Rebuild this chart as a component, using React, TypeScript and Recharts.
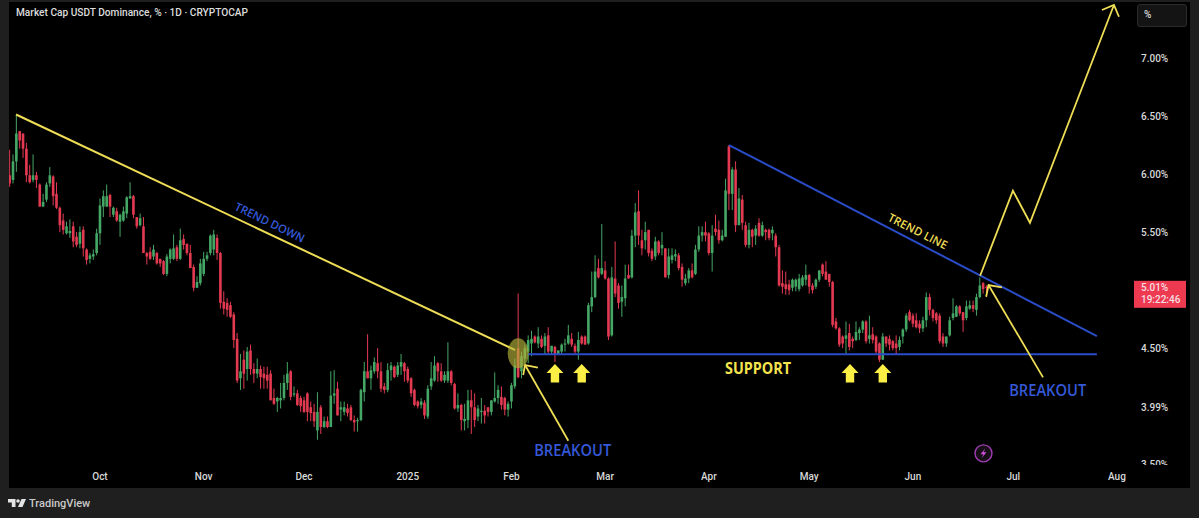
import React from 'react';
import {Bar, ComposedChart, Line, ReferenceDot, XAxis, YAxis} from 'recharts';

// Daily candles, first one is 27 days before Oct 1 (day 0)
const firstCandleDay = -27;

const opens = [
    5.98, 5.94, 6.10, 6.36, 6.34, 6.21, 5.98, 5.94, 5.98, 5.90,
    5.71, 5.77, 5.91, 5.97, 5.82, 5.70, 5.59, 5.48, 5.48, 5.54,
    5.45, 5.39, 5.51, 5.34, 5.26, 5.28, 5.31, 5.48, 5.71, 5.71,
    5.81, 5.64, 5.67, 5.58, 5.59, 5.65, 5.78, 5.80, 5.62, 5.55,
    5.54, 5.31, 5.32, 5.28, 5.31, 5.26, 5.24, 5.13, 5.26, 5.26,
    5.36, 5.26, 5.43, 5.39, 5.31, 5.19, 5.01, 5.05, 5.13, 5.26,
    5.31, 5.34, 5.44, 5.31, 4.89, 4.88, 4.86, 4.78, 4.57, 4.23,
    4.39, 4.31, 4.47, 4.31, 4.27, 4.31, 4.27, 4.26, 4.27, 4.06,
    4.03, 4.04, 4.06, 4.19, 4.29, 4.09, 4.10, 4.06, 4.04, 4.10,
    3.98, 3.94, 3.78, 3.98, 3.81, 3.86, 3.81, 4.08, 4.14, 3.96,
    3.94, 3.97, 3.98, 3.87, 3.86, 3.87, 4.11, 4.29, 4.23, 4.29,
    4.36, 4.29, 4.16, 4.13, 4.30, 4.33, 4.26, 4.33, 4.36, 4.31,
    4.23, 4.13, 4.03, 4.00, 4.02, 3.90, 4.16, 4.21, 4.36, 4.29,
    4.21, 4.21, 4.29, 4.18, 3.97, 4.00, 3.86, 3.87, 4.04, 3.98,
    3.90, 3.94, 3.95, 3.98, 3.94, 4.03, 4.06, 4.07, 4.06, 3.96,
    4.03, 4.16, 4.49, 4.29, 4.40, 4.46, 4.53, 4.59, 4.53, 4.57,
    4.51, 4.60, 4.46, 4.50, 4.44, 4.46, 4.52, 4.53, 4.57, 4.51,
    4.46, 4.59, 4.59, 4.53, 4.85, 4.93, 5.18, 5.13, 5.16, 5.09,
    4.60, 5.09, 5.03, 4.89, 4.92, 5.12, 5.10, 5.46, 5.67, 5.42,
    5.42, 5.51, 5.33, 5.28, 5.41, 5.35, 5.35, 5.12, 5.25, 5.28,
    5.29, 5.19, 5.05, 5.09, 5.16, 5.13, 5.34, 5.46, 5.49, 5.48,
    5.31, 5.52, 5.51, 5.42, 5.45, 6.23, 5.82, 6.03, 5.55, 5.77,
    5.55, 5.38, 5.51, 5.46, 5.57, 5.46, 5.51, 5.51, 5.48, 5.46,
    5.36, 5.05, 5.04, 5.04, 5.01, 5.02, 5.00, 5.03, 5.08, 5.12,
    5.03, 5.02, 5.08, 5.21, 5.15, 5.13, 5.06, 4.72, 4.66, 4.59,
    4.57, 4.62, 4.57, 4.56, 4.62, 4.65, 4.72, 4.57, 4.61, 4.59,
    4.53, 4.39, 4.59, 4.57, 4.55, 4.53, 4.50, 4.59, 4.65, 4.80,
    4.77, 4.73, 4.70, 4.66, 4.73, 4.93, 4.82, 4.79, 4.77, 4.59,
    4.53, 4.60, 4.75, 4.76, 4.85, 4.80, 4.75, 4.83, 4.86, 4.82,
    4.93, 5.05, 5.02,
];

const highs = [
    6.20, 6.16, 6.50, 6.36, 6.34, 6.26, 6.07, 6.16, 6.01, 5.91,
    5.82, 5.92, 6.05, 5.98, 5.92, 5.71, 5.65, 5.58, 5.60, 5.58,
    5.49, 5.54, 5.54, 5.35, 5.31, 5.34, 5.52, 5.78, 5.85, 5.90,
    5.82, 5.71, 5.70, 5.65, 5.71, 5.80, 5.92, 5.81, 5.62, 5.65,
    5.62, 5.32, 5.36, 5.38, 5.32, 5.26, 5.25, 5.30, 5.35, 5.47,
    5.38, 5.52, 5.47, 5.39, 5.38, 5.21, 5.11, 5.26, 5.32, 5.32,
    5.47, 5.51, 5.47, 5.32, 4.98, 4.92, 4.89, 4.80, 4.62, 4.44,
    4.47, 4.50, 4.52, 4.36, 4.40, 4.34, 4.33, 4.33, 4.30, 4.14,
    4.07, 4.19, 4.26, 4.37, 4.30, 4.16, 4.13, 4.08, 4.07, 4.11,
    4.03, 4.01, 4.11, 4.00, 3.90, 3.90, 4.29, 4.30, 4.20, 4.03,
    4.03, 4.01, 4.00, 3.91, 3.89, 4.14, 4.37, 4.61, 4.34, 4.41,
    4.49, 4.37, 4.19, 4.36, 4.37, 4.34, 4.37, 4.44, 4.37, 4.33,
    4.24, 4.14, 4.04, 4.06, 4.04, 4.17, 4.37, 4.42, 4.37, 4.36,
    4.29, 4.54, 4.30, 4.19, 4.10, 4.01, 4.01, 4.13, 4.13, 4.10,
    4.00, 4.06, 4.00, 3.98, 4.04, 4.28, 4.17, 4.16, 4.07, 4.03,
    4.19, 4.40, 4.96, 4.46, 4.52, 4.60, 4.64, 4.60, 4.67, 4.60,
    4.62, 4.67, 4.51, 4.51, 4.47, 4.53, 4.57, 4.69, 4.62, 4.53,
    4.63, 4.60, 4.60, 4.88, 5.15, 5.29, 5.26, 5.56, 5.24, 5.10,
    5.19, 5.41, 5.05, 5.03, 5.21, 5.21, 5.51, 5.74, 5.85, 5.51,
    5.58, 5.51, 5.35, 5.45, 5.42, 5.49, 5.35, 5.35, 5.35, 5.34,
    5.31, 5.22, 5.13, 5.18, 5.22, 5.38, 5.54, 5.54, 5.58, 5.49,
    5.55, 5.64, 5.59, 5.51, 5.95, 6.24, 6.05, 6.10, 5.87, 5.81,
    5.58, 5.57, 5.52, 5.55, 5.61, 5.58, 5.52, 5.52, 5.54, 5.48,
    5.38, 5.16, 5.15, 5.08, 5.09, 5.09, 5.13, 5.12, 5.21, 5.13,
    5.05, 5.09, 5.16, 5.22, 5.24, 5.13, 5.07, 4.75, 4.67, 4.60,
    4.72, 4.70, 4.59, 4.72, 4.67, 4.73, 4.73, 4.77, 4.67, 4.60,
    4.54, 4.62, 4.59, 4.60, 4.56, 4.60, 4.59, 4.66, 4.79, 4.82,
    4.79, 4.79, 4.73, 4.76, 4.97, 4.96, 4.83, 4.80, 4.79, 4.62,
    4.59, 4.76, 4.92, 4.86, 4.86, 4.80, 4.90, 4.90, 4.90, 4.96,
    5.10, 5.06, 5.03,
];

const lows = [
    5.88, 5.91, 6.01, 6.21, 6.13, 5.92, 5.91, 5.92, 5.87, 5.71,
    5.71, 5.75, 5.88, 5.72, 5.69, 5.49, 5.47, 5.47, 5.44, 5.36,
    5.36, 5.35, 5.28, 5.21, 5.22, 5.25, 5.29, 5.38, 5.62, 5.71,
    5.62, 5.62, 5.58, 5.45, 5.58, 5.61, 5.78, 5.61, 5.52, 5.54,
    5.31, 5.21, 5.25, 5.25, 5.21, 5.19, 5.12, 5.11, 5.22, 5.25,
    5.24, 5.25, 5.34, 5.29, 5.18, 4.98, 5.01, 5.03, 5.11, 5.24,
    5.29, 5.29, 5.25, 4.83, 4.78, 4.76, 4.75, 4.49, 4.19, 4.13,
    4.14, 4.21, 4.26, 4.19, 4.23, 4.14, 4.14, 4.14, 4.04, 4.00,
    3.94, 3.97, 4.04, 4.13, 4.04, 4.07, 3.99, 3.94, 3.93, 3.86,
    3.86, 3.81, 3.70, 3.75, 3.80, 3.80, 3.81, 4.01, 3.91, 3.86,
    3.91, 3.90, 3.86, 3.77, 3.77, 3.86, 4.03, 4.23, 4.13, 4.27,
    4.23, 4.11, 4.10, 4.11, 4.21, 4.23, 4.24, 4.26, 4.20, 4.19,
    4.07, 3.99, 3.97, 3.97, 3.88, 3.88, 4.13, 4.20, 4.20, 4.20,
    4.19, 4.19, 4.17, 3.96, 3.94, 3.78, 3.78, 3.80, 3.75, 3.81,
    3.86, 3.84, 3.84, 3.90, 3.91, 4.02, 4.01, 3.96, 3.91, 3.90,
    3.97, 4.14, 4.23, 4.23, 4.34, 4.36, 4.42, 4.53, 4.49, 4.49,
    4.44, 4.44, 4.44, 4.37, 4.43, 4.44, 4.46, 4.52, 4.50, 4.44,
    4.39, 4.52, 4.52, 4.52, 4.80, 4.92, 5.09, 5.12, 5.08, 4.56,
    4.59, 4.93, 4.83, 4.76, 4.85, 5.09, 5.09, 5.36, 5.38, 5.29,
    5.34, 5.28, 5.24, 5.25, 5.29, 5.29, 5.10, 5.09, 5.22, 5.24,
    5.16, 5.02, 5.03, 5.05, 5.09, 5.12, 5.32, 5.41, 5.41, 5.29,
    5.15, 5.46, 5.39, 5.41, 5.45, 5.68, 5.68, 5.49, 5.55, 5.51,
    5.36, 5.35, 5.36, 5.38, 5.45, 5.45, 5.42, 5.42, 5.42, 5.28,
    5.02, 4.96, 4.95, 4.95, 4.98, 4.98, 4.98, 5.02, 5.03, 4.96,
    4.96, 5.00, 5.06, 5.11, 5.08, 5.02, 4.67, 4.65, 4.50, 4.49,
    4.44, 4.47, 4.49, 4.55, 4.56, 4.62, 4.53, 4.53, 4.53, 4.44,
    4.37, 4.39, 4.50, 4.47, 4.47, 4.44, 4.47, 4.53, 4.63, 4.72,
    4.67, 4.66, 4.62, 4.63, 4.67, 4.77, 4.72, 4.70, 4.53, 4.50,
    4.50, 4.59, 4.73, 4.76, 4.77, 4.63, 4.73, 4.82, 4.80, 4.77,
    4.92, 4.96, 4.93,
];

const closes = [
    5.91, 6.10, 6.34, 6.28, 6.21, 5.98, 5.92, 5.98, 5.94, 5.71,
    5.75, 5.90, 5.98, 5.80, 5.70, 5.55, 5.51, 5.54, 5.50, 5.41,
    5.38, 5.49, 5.35, 5.25, 5.29, 5.30, 5.48, 5.72, 5.80, 5.80,
    5.71, 5.70, 5.59, 5.64, 5.67, 5.79, 5.80, 5.64, 5.54, 5.61,
    5.31, 5.28, 5.26, 5.34, 5.22, 5.22, 5.13, 5.28, 5.34, 5.35,
    5.26, 5.42, 5.38, 5.31, 5.18, 5.01, 5.06, 5.22, 5.26, 5.29,
    5.46, 5.47, 5.31, 4.88, 4.83, 4.82, 4.76, 4.56, 4.21, 4.29,
    4.27, 4.46, 4.31, 4.27, 4.31, 4.24, 4.23, 4.21, 4.04, 4.01,
    4.06, 4.06, 4.19, 4.27, 4.07, 4.10, 4.00, 3.99, 3.94, 3.94,
    3.93, 3.86, 3.94, 3.81, 3.86, 3.81, 4.08, 4.10, 3.91, 3.98,
    3.98, 3.93, 3.87, 3.85, 3.87, 4.13, 4.29, 4.23, 4.30, 4.37,
    4.29, 4.14, 4.13, 4.30, 4.34, 4.24, 4.34, 4.37, 4.29, 4.21,
    4.10, 4.00, 3.99, 4.03, 3.91, 4.14, 4.23, 4.34, 4.29, 4.21,
    4.26, 4.29, 4.19, 3.97, 4.00, 3.87, 3.88, 4.04, 3.98, 3.87,
    3.97, 3.95, 3.91, 3.94, 4.04, 4.06, 4.13, 4.00, 3.96, 4.01,
    4.17, 4.34, 4.24, 4.42, 4.49, 4.56, 4.57, 4.54, 4.59, 4.50,
    4.59, 4.46, 4.51, 4.44, 4.47, 4.52, 4.53, 4.60, 4.52, 4.46,
    4.56, 4.53, 4.52, 4.86, 4.93, 5.15, 5.10, 5.18, 5.09, 4.59,
    5.10, 4.96, 4.88, 4.93, 5.09, 5.09, 5.46, 5.66, 5.46, 5.35,
    5.49, 5.31, 5.26, 5.41, 5.31, 5.38, 5.10, 5.28, 5.29, 5.30,
    5.18, 5.08, 5.09, 5.16, 5.10, 5.34, 5.46, 5.49, 5.46, 5.31,
    5.46, 5.49, 5.42, 5.46, 5.85, 5.82, 6.03, 5.55, 5.78, 5.57,
    5.38, 5.51, 5.45, 5.52, 5.46, 5.55, 5.49, 5.44, 5.51, 5.36,
    5.03, 5.02, 5.00, 4.99, 5.08, 5.08, 5.09, 5.10, 5.12, 5.02,
    4.99, 5.08, 5.16, 5.13, 5.08, 5.06, 4.69, 4.66, 4.52, 4.53,
    4.60, 4.50, 4.55, 4.63, 4.65, 4.72, 4.55, 4.60, 4.56, 4.46,
    4.39, 4.59, 4.53, 4.52, 4.49, 4.49, 4.56, 4.65, 4.77, 4.73,
    4.70, 4.67, 4.66, 4.73, 4.93, 4.82, 4.75, 4.73, 4.55, 4.53,
    4.59, 4.73, 4.79, 4.85, 4.79, 4.73, 4.85, 4.86, 4.83, 4.93,
    5.03, 5.00, 5.01,
];

const monthDays = [0, 31, 61, 92, 123, 151, 182, 212, 243, 273, 304];
const monthLabels = ['Oct', 'Nov', 'Dec', '2025', 'Feb', 'Mar', 'Apr', 'May', 'Jun', 'Jul', 'Aug'];
const priceTicks = [3.5, 3.99, 4.5, 5.01, 5.5, 6, 6.5, 7];

// Hand drawn lines, as [day, price] points
const trendDown = [[-25.1, 6.504], [124.07, 4.474]];
const supportLine = [[127.9, 4.437], [298, 4.437]];
const trendLine = [[188, 6.241], [298, 4.594]];
const riseLine = [[263.1, 5.114], [272.9, 5.847], [278, 5.571], [303.1, 7.448]];
const riseHead = [[299.5, 7.405], [303.1, 7.448], [304.6, 7.347]];
const breakoutLeft = [[140, 3.692], [127.05, 4.344]];
const breakoutLeftHead = [[126.5, 4.258], [127.05, 4.344], [130.9, 4.321]];
const breakoutRight = [[281.9, 4.238], [265.6, 5.034]];
const breakoutRightHead = [[264.9, 4.933], [265.6, 5.034], [269.6, 5.014]];

const arrowDays = [136, 144, 224.2, 234];
const arrowPrice = 4.275;

const YELLOW = '#eedd55';
const BLUE = '#2a4cc8';
const LABEL_BLUE = '#3558d8';
const UP = '#45a765';
const DOWN = '#e33a52';
const TICK_FONT = 'Roboto, sans-serif';

const candles = opens.map((open, i) => ({
    day: firstCandleDay + i,
    open,
    high: highs[i],
    low: lows[i],
    close: closes[i],
}));

const toPoints = (points: number[][]) => points.map(([day, price]) => ({day, price}));

// Wick comes from the bar itself, body is placed with the same px per price ratio
const Candle = (props: any) => {
    const {x, y, width, height, payload} = props;
    const {open, close, high, low} = payload;
    const perUnit = height / (high - low);
    const bodyTop = y + (high - Math.max(open, close)) * perUnit;
    const bodyHeight = Math.max(Math.abs(open - close) * perUnit, 1);
    const color = close >= open ? UP : DOWN;
    const center = x + width / 2;
    return (
        <g>
            <line x1={center} x2={center} y1={y} y2={y + height} stroke={color} strokeWidth={1}/>
            <rect x={center - 1.3} y={bodyTop} width={2.6} height={bodyHeight} fill={color}/>
        </g>
    );
};

const PriceTick = (props: any) => {
    const {x, y, payload} = props;
    const value = payload.value;
    if (value === 5.01) {
        return (
            <g fontFamily={TICK_FONT} fontSize={10} fontWeight={500} fill="#f5dfe2">
                <rect x={x - 4} y={y - 7} width={52} height={27} fill="#ee3a50"/>
                <text x={x + 3} y={y + 3.5}>5.01%</text>
                <text x={x + 3} y={y + 15.5}>19:22:46</text>
            </g>
        );
    }
    return (
        <g>
            <text x={x + 3} y={y + 5} fontFamily={TICK_FONT} fontSize={10} fontWeight={500} fill="#d8d8d8">
                {value.toFixed(2)}%
            </text>
            {value === 3.5 && <rect x={x} y={y + 2} width={50} height={14} fill="#000"/>}
        </g>
    );
};

const MonthTick = (props: any) => {
    const {x, y, payload} = props;
    const label = monthLabels[monthDays.indexOf(payload.value)];
    return (
        <text x={x} y={y + 8} textAnchor="middle" fontFamily={TICK_FONT} fontSize={10} fontWeight={500} fill="#d8d8d8">
            {label}
        </text>
    );
};

const BlockArrow = ({cx, cy}: any) => (
    <path
        d={`M${cx} ${cy - 9} L${cx + 8.5} ${cy} L${cx + 4.2} ${cy} L${cx + 4.2} ${cy + 9.5} L${cx - 4.2} ${cy + 9.5} L${cx - 4.2} ${cy} L${cx - 8.5} ${cy} Z`}
        fill="#fbef45"
    />
);

const note = (text: string, color: string, size: number, weight: number, width: number, angle = 0) => ({cx, cy}: any) => (
    <text
        x={cx}
        y={cy}
        textAnchor="middle"
        dominantBaseline="central"
        textLength={width}
        lengthAdjust="spacingAndGlyphs"
        transform={angle ? `rotate(${angle} ${cx} ${cy})` : undefined}
        fontFamily="'Open Sans', sans-serif"
        fontSize={size}
        fontWeight={weight}
        fill={color}
    >
        {text}
    </text>
);

const BoltIcon = ({cx, cy}: any) => (
    <g>
        <circle cx={cx} cy={cy} r={8.5} fill="#161016" stroke="#a13bb4" strokeWidth={1.4}/>
        <path
            d={`M${cx + 2} ${cy - 5} L${cx - 3} ${cy + 1} L${cx} ${cy + 1} L${cx - 2} ${cy + 5} L${cx + 3} ${cy - 1} L${cx} ${cy - 1} Z`}
            fill="#d24fe0"
        />
    </g>
);

const Oval = ({cx, cy}: any) => (
    <ellipse cx={cx} cy={cy} rx={10.5} ry={15} fill="#b3b03a" fillOpacity={0.65}/>
);

const drawnLine = (points: number[][], color: string, width: number, name: string) => (
    <Line
        key={name}
        data={toPoints(points)}
        dataKey="price"
        stroke={color}
        strokeWidth={width}
        dot={false}
        activeDot={false}
        legendType="none"
        isAnimationActive={false}
    />
);

export default function App() {
    return (
        <div style={{position: 'absolute', left: 0, top: 0, width: 1199, height: 518, background: '#1f1f1f', overflow: 'hidden'}}>
            <div style={{position: 'absolute', left: 9, top: 2, width: 1181, height: 486, background: '#000'}}/>
            <div style={{position: 'absolute', left: 0, top: 0}}>
                <ComposedChart
                    width={1199}
                    height={488}
                    data={candles}
                    margin={{top: 2, right: 9, bottom: 0, left: 9}}
                >
                    <XAxis
                        dataKey="day"
                        type="number"
                        domain={[-27.2, 307.9]}
                        ticks={monthDays}
                        interval={0}
                        height={24}
                        axisLine={false}
                        tickLine={false}
                        tick={<MonthTick/>}
                        allowDataOverflow
                    />
                    <YAxis
                        orientation="right"
                        type="number"
                        domain={[3.491, 7.474]}
                        ticks={priceTicks}
                        interval={0}
                        width={60}
                        axisLine={false}
                        tickLine={false}
                        tick={<PriceTick/>}
                        allowDataOverflow
                    />
                    <Bar
                        dataKey={(d: any) => [d.low, d.high]}
                        barSize={3}
                        shape={<Candle/>}
                        isAnimationActive={false}
                    />
                    {drawnLine(trendDown, YELLOW, 2, 'trendDown')}
                    {drawnLine(supportLine, BLUE, 2, 'support')}
                    {drawnLine(trendLine, BLUE, 2, 'trendLine')}
                    {drawnLine(riseLine, YELLOW, 1.8, 'rise')}
                    {drawnLine(riseHead, YELLOW, 1.8, 'riseHead')}
                    {drawnLine(breakoutLeft, YELLOW, 1.8, 'breakoutLeft')}
                    {drawnLine(breakoutLeftHead, YELLOW, 1.8, 'breakoutLeftHead')}
                    {drawnLine(breakoutRight, YELLOW, 1.8, 'breakoutRight')}
                    {drawnLine(breakoutRightHead, YELLOW, 1.8, 'breakoutRightHead')}
                    <ReferenceDot x={125} y={4.445} isFront shape={<Oval/>}/>
                    {arrowDays.map((day) => (
                        <ReferenceDot key={day} x={day} y={arrowPrice} isFront shape={<BlockArrow/>}/>
                    ))}
                    <ReferenceDot x={50.8} y={5.577} isFront shape={note('TREND DOWN', LABEL_BLUE, 11.5, 600, 76, 26)}/>
                    <ReferenceDot x={244.5} y={5.5} isFront shape={note('TREND LINE', YELLOW, 11.5, 600, 65, 27)}/>
                    <ReferenceDot x={196.7} y={4.319} isFront shape={note('SUPPORT', '#f4e44e', 16, 700, 66)}/>
                    <ReferenceDot x={141.3} y={3.612} isFront shape={note('BREAKOUT', LABEL_BLUE, 16, 600, 77)}/>
                    <ReferenceDot x={283.3} y={4.129} isFront shape={note('BREAKOUT', LABEL_BLUE, 16, 600, 77)}/>
                    <ReferenceDot x={264.1} y={3.583} isFront shape={<BoltIcon/>}/>
                </ComposedChart>
            </div>

            <div style={{position: 'absolute', left: 16, top: 7, font: "500 10.15px Roboto, sans-serif", color: '#dcdcdc', whiteSpace: 'nowrap'}}>
                Market Cap USDT Dominance, % · 1D · CRYPTOCAP
            </div>

            <div style={{position: 'absolute', left: 1137, top: 4, width: 48, height: 21, background: '#141414', border: '1px solid #2b2b2b', borderRadius: 3}}>
                <span style={{position: 'absolute', left: 6, top: 4, font: "500 10px Roboto, sans-serif", color: '#d8d8d8'}}>%</span>
            </div>

            <svg style={{position: 'absolute', left: 8, top: 498}} width={19} height={10} viewBox="0 0 19 10">
                <path d="M0 1 H7.5 V9 H3.8 V4.5 H0 Z" fill="#e4e4e4"/>
                <circle cx={10} cy={3} r={1.8} fill="#e4e4e4"/>
                <path d="M13.5 1 H18 L14.5 9 H10 Z" fill="#e4e4e4"/>
            </svg>
            <div style={{position: 'absolute', left: 29, top: 497, font: "500 11px Roboto, sans-serif", color: '#c9c9c9'}}>TradingView</div>
        </div>
    );
}
